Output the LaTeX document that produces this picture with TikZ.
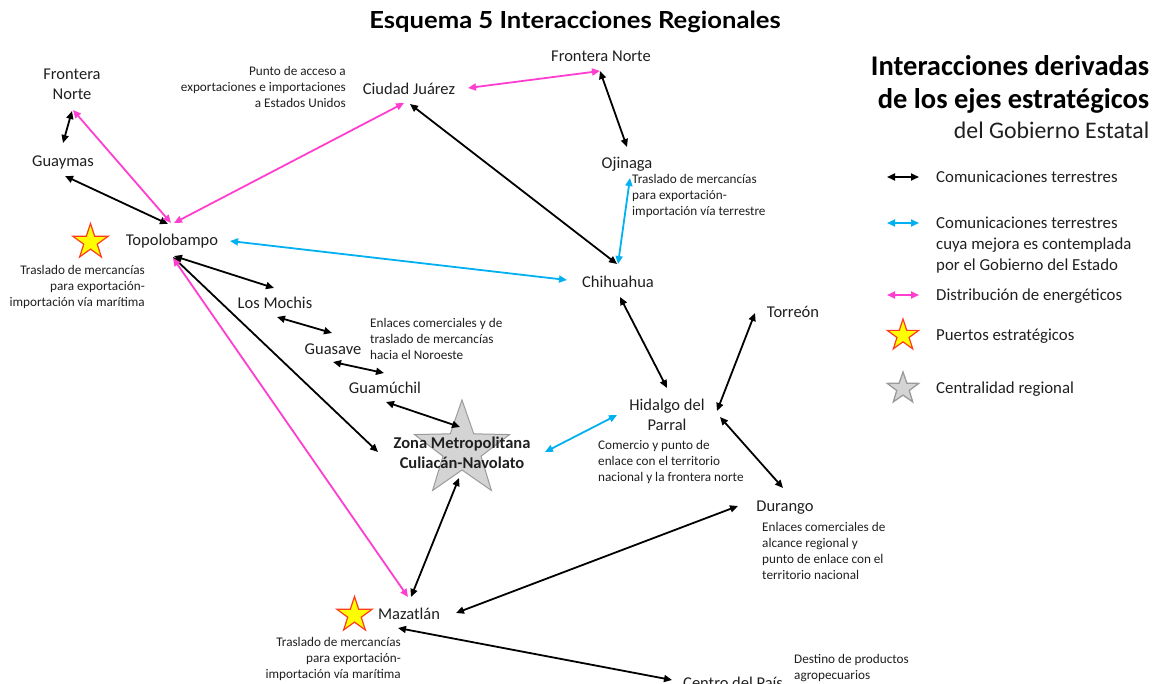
\documentclass[tikz,border=0pt]{standalone}
\usepackage{fontspec}
\setmainfont{Carlito}
\newfontfamily\titlefont{Lato}[FakeStretch=1.09]
\usetikzlibrary{arrows.meta,shapes.geometric}
\definecolor{mag}{HTML}{FF3DCF}
\definecolor{cyanb}{HTML}{00B0F0}
\definecolor{txt}{HTML}{1F1F1F}
\definecolor{stary}{HTML}{FFFF00}
\definecolor{starr}{HTML}{FF3B1F}
\definecolor{starg}{HTML}{D4D4D4}
\definecolor{stargb}{HTML}{9A9A9A}
\tikzset{
  lbl/.style={font=\fontsize{16.5}{20}\selectfont, inner sep=0pt, align=center, anchor=base, text=txt},
  lblb/.style={lbl, font=\fontsize{16.5}{20}\selectfont\bfseries},
  notel/.style={font=\fontsize{13.2}{16}\selectfont, inner sep=0pt, align=left, anchor=base west, text=txt},
  noter/.style={font=\fontsize{13.2}{16}\selectfont, inner sep=0pt, align=right, anchor=base east, text=txt},
  legt/.style={font=\fontsize{16.8}{20.8}\selectfont, inner sep=0pt, align=left, anchor=base west, text=txt},
  conn/.style={line width=1.8pt, {Triangle[length=8pt,width=7pt]}-{Triangle[length=8pt,width=7pt]}},
  blk/.style={conn, draw=black},
  blu/.style={conn, draw=cyanb},
  pnk/.style={conn, draw=mag},
  ystar/.style={star, star points=5, star point ratio=2.6, inner sep=0pt, fill=stary, draw=starr, line width=1.2pt, minimum size=#1},
  gstar/.style={star, star points=5, star point ratio=2.5, inner sep=0pt, fill=starg, draw=stargb, line width=1pt, minimum size=#1},
}
\begin{document}
\begin{tikzpicture}[x=1pt,y=-1pt]
\useasboundingbox (0,0) rectangle (1156,683);
% title
\node[inner sep=0pt, anchor=base, font=\titlefont\bfseries\fontsize{23.5}{27}\selectfont] (title) at (575,28.5) {Esquema 5 Interacciones Regionales};

% stars
\node[gstar=100pt] (zstar) at (462,450) {};
\node[ystar=37pt] (topostar) at (90.5,242) {};
\node[ystar=37pt] (mazstar) at (354.5,615) {};

% place labels (multi-line nodes: base = last line baseline)
\node[lbl] (fnl) at (72,99) {Frontera\\Norte};
\node[lbl] (guay) at (63,166.5) {Guaymas};
\node[lbl] (topo) at (172,245.5) {Topolobampo};
\node[lbl] (moch) at (275,308) {Los Mochis};
\node[lbl] (guas) at (333,354) {Guasave};
\node[lbl] (guam) at (385,393) {Guamúchil};
\node[lblb] (zona) at (462,468) {Zona Metropolitana\\Culiacán-Navolato};
\node[lbl] (juar) at (409,94) {Ciudad Juárez};
\node[lbl] (fnt) at (601,61.5) {Frontera Norte};
\node[lbl] (ojin) at (627,168.5) {Ojinaga};
\node[lbl] (chih) at (618,287) {Chihuahua};
\node[lbl] (parr) at (667,430) {Hidalgo del\\Parral};
\node[lbl] (torr) at (793,317.5) {Torreón};
\node[lbl] (dura) at (785,511.5) {Durango};
\node[lbl] (maza) at (409,619.5) {Mazatlán};
\node[lbl, anchor=base west] (cent) at (683,688) {Centro del País};

% notes
\node[noter] (n1) at (346,107.5) {Punto de acceso a\\exportaciones e importaciones\\a Estados Unidos};
\node[noter] (n2) at (145,306) {Traslado de mercancías\\para exportación-\\importación vía marítima};
\node[notel] (n3) at (632,215) {Traslado de mercancías\\para exportación-\\importación vía terrestre};
\node[notel] (n4) at (370,359) {Enlaces comerciales y de\\traslado de mercancías\\hacia el Noroeste};
\node[notel] (n5) at (598,481) {Comercio y punto de\\enlace con el territorio\\nacional y la frontera norte};
\node[notel] (n6) at (762,579) {Enlaces comerciales de\\alcance regional y\\punto de enlace con el\\territorio nacional};
\node[noter] (n7) at (401,678.5) {Traslado de mercancías\\para exportación-\\importación vía marítima};
\node[notel] (n8) at (794,679) {Destino de productos\\agropecuarios};

% legend
\node[inner sep=0pt, anchor=base east, align=right, font=\fontsize{28.5}{33}\selectfont\bfseries] (lgt1) at (1149.5,108) {Interacciones derivadas\\de los ejes estratégicos};
\node[inner sep=0pt, anchor=base east, font=\fontsize{23.8}{28}\selectfont, text=txt] (lgt2) at (1149.5,138) {del Gobierno Estatal};
\coordinate (l1a) at (887,177); \coordinate (l1b) at (919,177);
\coordinate (l2a) at (887,223); \coordinate (l2b) at (919,223);
\coordinate (l3a) at (887,295); \coordinate (l3b) at (919,295);
\draw[blk] (l1a) -- (l1b);
\draw[blu] (l2a) -- (l2b);
\draw[pnk] (l3a) -- (l3b);
\node[ystar=33pt] (lgs1) at (903,335.5) {};
\node[gstar=33pt, line width=1.3pt] (lgs2) at (903,388.5) {};
\node[legt] (lg1) at (936,182) {Comunicaciones terrestres};
\node[legt] (lg2) at (936,270) {Comunicaciones terrestres\\cuya mejora es contemplada\\por el Gobierno del Estado};
\node[legt] (lg3) at (936,300.5) {Distribución de energéticos};
\node[legt] (lg4) at (936,340.5) {Puertos estratégicos};
\node[legt] (lg5) at (936,393.5) {Centralidad regional};

% connector end points
\coordinate (fnl-s) at (72,111);   \coordinate (guay-n) at (63,143);
\coordinate (guay-se) at (65,176); \coordinate (topo-nw) at (168,224);
\coordinate (topo-s1) at (174,256); \coordinate (moch-nw) at (274,288);
\coordinate (topo-s2) at (173,257); \coordinate (zona-nw) at (378,452);
\coordinate (moch-s) at (277,317); \coordinate (guas-ne) at (332,333);
\coordinate (guas-s) at (333,362); \coordinate (guam-nw) at (384,373);
\coordinate (guam-s) at (386,402); \coordinate (zona-n) at (460,427);
\coordinate (juar-s) at (410,104); \coordinate (chih-n) at (617,264);
\coordinate (fnt-s) at (600,71);   \coordinate (ojin-n) at (627,147);
\coordinate (chih-s) at (620,297); \coordinate (parr-n) at (667,388);
\coordinate (torr-w) at (755,313); \coordinate (parr-e) at (717,411);
\coordinate (parr-se) at (720,417); \coordinate (dura-n) at (783,488);
\coordinate (dura-w) at (738,506); \coordinate (maza-e) at (456,613);
\coordinate (maza-se) at (398,628); \coordinate (cent-w) at (672,680);
\coordinate (zona-s) at (459,478); \coordinate (maza-n) at (411,597);
\coordinate (topo-e) at (230,241); \coordinate (chih-w) at (567,280);
\coordinate (ojin-s) at (630,178); \coordinate (chih-n2) at (618,264);
\coordinate (zona-e) at (545,452); \coordinate (parr-w) at (617,415);
\coordinate (fnl-s2) at (73,110); \coordinate (topo-n1) at (171,223);
\coordinate (topo-n2) at (174,223); \coordinate (juar-sw) at (404,103);
\coordinate (juar-e) at (468,88); \coordinate (fnt-w) at (600,71);
\coordinate (topo-s3) at (173,258); \coordinate (maza-n2) at (408,597);

% black connectors
\draw[blk] (fnl-s) -- (guay-n);
\draw[blk] (guay-se) -- (topo-nw);
\draw[blk] (topo-s1) -- (moch-nw);
\draw[blk] (topo-s2) -- (zona-nw);
\draw[blk] (moch-s) -- (guas-ne);
\draw[blk] (guas-s) -- (guam-nw);
\draw[blk] (guam-s) -- (zona-n);
\draw[blk] (juar-s) -- (chih-n);
\draw[blk] (fnt-s) -- (ojin-n);
\draw[blk] (chih-s) -- (parr-n);
\draw[blk] (torr-w) -- (parr-e);
\draw[blk] (parr-se) -- (dura-n);
\draw[blk] (dura-w) -- (maza-e);
\draw[blk] (maza-se) -- (cent-w);
\draw[blk] (zona-s) -- (maza-n);
% blue connectors
\draw[blu] (topo-e) -- (chih-w);
\draw[blu] (ojin-s) -- (chih-n2);
\draw[blu] (zona-e) -- (parr-w);
% magenta connectors
\draw[pnk] (fnl-s2) -- (topo-n1);
\draw[pnk] (topo-n2) -- (juar-sw);
\draw[pnk] (juar-e) -- (fnt-w);
\draw[pnk] (topo-s3) -- (maza-n2);
\end{tikzpicture}
\end{document}
